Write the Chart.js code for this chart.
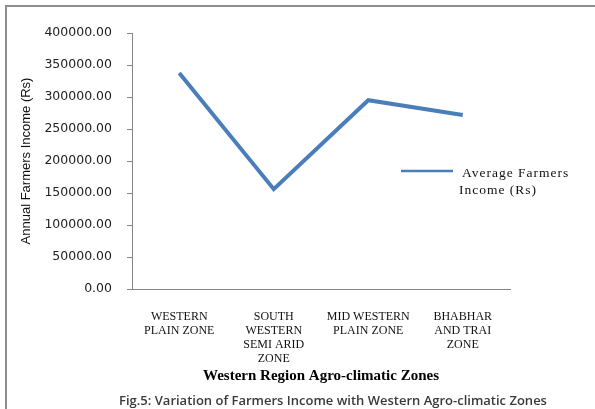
<!DOCTYPE html>
<html>
<head>
<meta charset="utf-8">
<script src="https://cdn.jsdelivr.net/npm/chart.js@4/dist/chart.umd.min.js"></script>
<style>
  html, body { margin: 0; padding: 0; background: #fff; }
  #wrap { width: 595px; height: 409px; position: relative; }
</style>
</head>
<body>
<div id="wrap"><canvas id="chartIncome"></canvas></div>
<script>
// zones along the x axis (multi-line labels as in the figure)
const zoneLabels = [
    ["WESTERN", "PLAIN ZONE"],
    ["SOUTH", "WESTERN", "SEMI ARID", "ZONE"],
    ["MID WESTERN", "PLAIN ZONE"],
    ["BHABHAR", "AND TRAI", "ZONE"]
];
// average farmers income (Rs)
const avgIncome = [337500, 156000, 295000, 272000];
const seriesName = ["Average Farmers", "Income (Rs)"];
const yTickStep = 50000;
const yMax = 400000;

const captionText = "Fig.5: Variation of Farmers Income with Western Agro-climatic Zones";

// frame, custom two-line legend and the figure caption
const decorPlugin = {
    id: 'decor',
    beforeDraw(chart) {
        const ctx = chart.ctx;
        ctx.save();
        ctx.fillStyle = '#fff';
        ctx.fillRect(0, 0, chart.width, chart.height);
        ctx.strokeStyle = '#8e8e8e';
        ctx.lineWidth = 2;
        ctx.beginPath();
        ctx.moveTo(6, chart.height);
        ctx.lineTo(6, 6);
        ctx.lineTo(chart.width, 6);
        ctx.stroke();
        ctx.restore();
    },
    afterDraw(chart) {
        const ctx = chart.ctx;
        const ds = chart.data.datasets[0];
        ctx.save();
        // legend
        ctx.strokeStyle = ds.borderColor;
        ctx.lineWidth = 2.5;
        ctx.beginPath();
        ctx.moveTo(401, 171);
        ctx.lineTo(453, 171);
        ctx.stroke();
        ctx.fillStyle = '#111';
        ctx.font = '13.5px "Liberation Serif"';
        ctx.textBaseline = 'middle';
        ctx.letterSpacing = '1px';
        ctx.fillText(seriesName[0], 462, 173);
        ctx.fillText(seriesName[1], 459, 190);
        // caption
        ctx.letterSpacing = '0px';
        ctx.font = '600 13px "Open Sans"';
        ctx.fillStyle = '#3a3a3a';
        ctx.textAlign = 'center';
        ctx.fillText(captionText, 333, 401);
        ctx.restore();
    }
};

const ctx = document.getElementById('chartIncome').getContext('2d');
new Chart(ctx, {
    type: 'line',
    data: {
        labels: zoneLabels,
        datasets: [{
            label: seriesName.join(' '),
            data: avgIncome,
            borderColor: '#4a7ebb',
            borderWidth: 4,
            pointRadius: 0,
            tension: 0,
            fill: false
        }]
    },
    options: {
        responsive: true,
        maintainAspectRatio: false,
        animation: false,
        layout: { padding: { left: 0, top: 33, right: 85, bottom: 22 } },
        scales: {
            x: {
                offset: true,
                grid: { display: false },
                border: { display: true, color: '#868686', width: 1 },
                ticks: {
                    color: '#111',
                    padding: 13,
                    maxRotation: 0,
                    autoSkip: false,
                    font: { family: '"Liberation Serif"', size: 12, lineHeight: 1.17 }
                },
                title: {
                    display: true,
                    text: 'Western Region Agro-climatic Zones',
                    color: '#000',
                    font: { family: '"Liberation Serif"', size: 15, weight: 'bold', lineHeight: 1.2 },
                    padding: { top: 4, bottom: 2 }
                },
                afterFit(scale) { scale.height = 98; }
            },
            y: {
                min: 0,
                max: yMax,
                grid: { drawOnChartArea: false, color: '#868686', tickLength: 5 },
                border: { display: true, color: '#868686', width: 1 },
                ticks: {
                    stepSize: yTickStep,
                    color: '#222',
                    padding: 15,
                    font: { family: '"DejaVu Sans"', size: 12.5 },
                    callback: v => Number(v).toFixed(2)
                },
                title: {
                    display: true,
                    text: 'Annual Farmers Income (Rs)',
                    color: '#111',
                    font: { family: '"Liberation Sans"', size: 13, lineHeight: 1.2 },
                    padding: { top: 19, bottom: 0 }
                },
                afterFit(scale) { scale.width = 132; }
            }
        },
        plugins: {
            legend: { display: false },
            tooltip: { enabled: false }
        }
    },
    plugins: [decorPlugin]
});
</script>
</body>
</html>
